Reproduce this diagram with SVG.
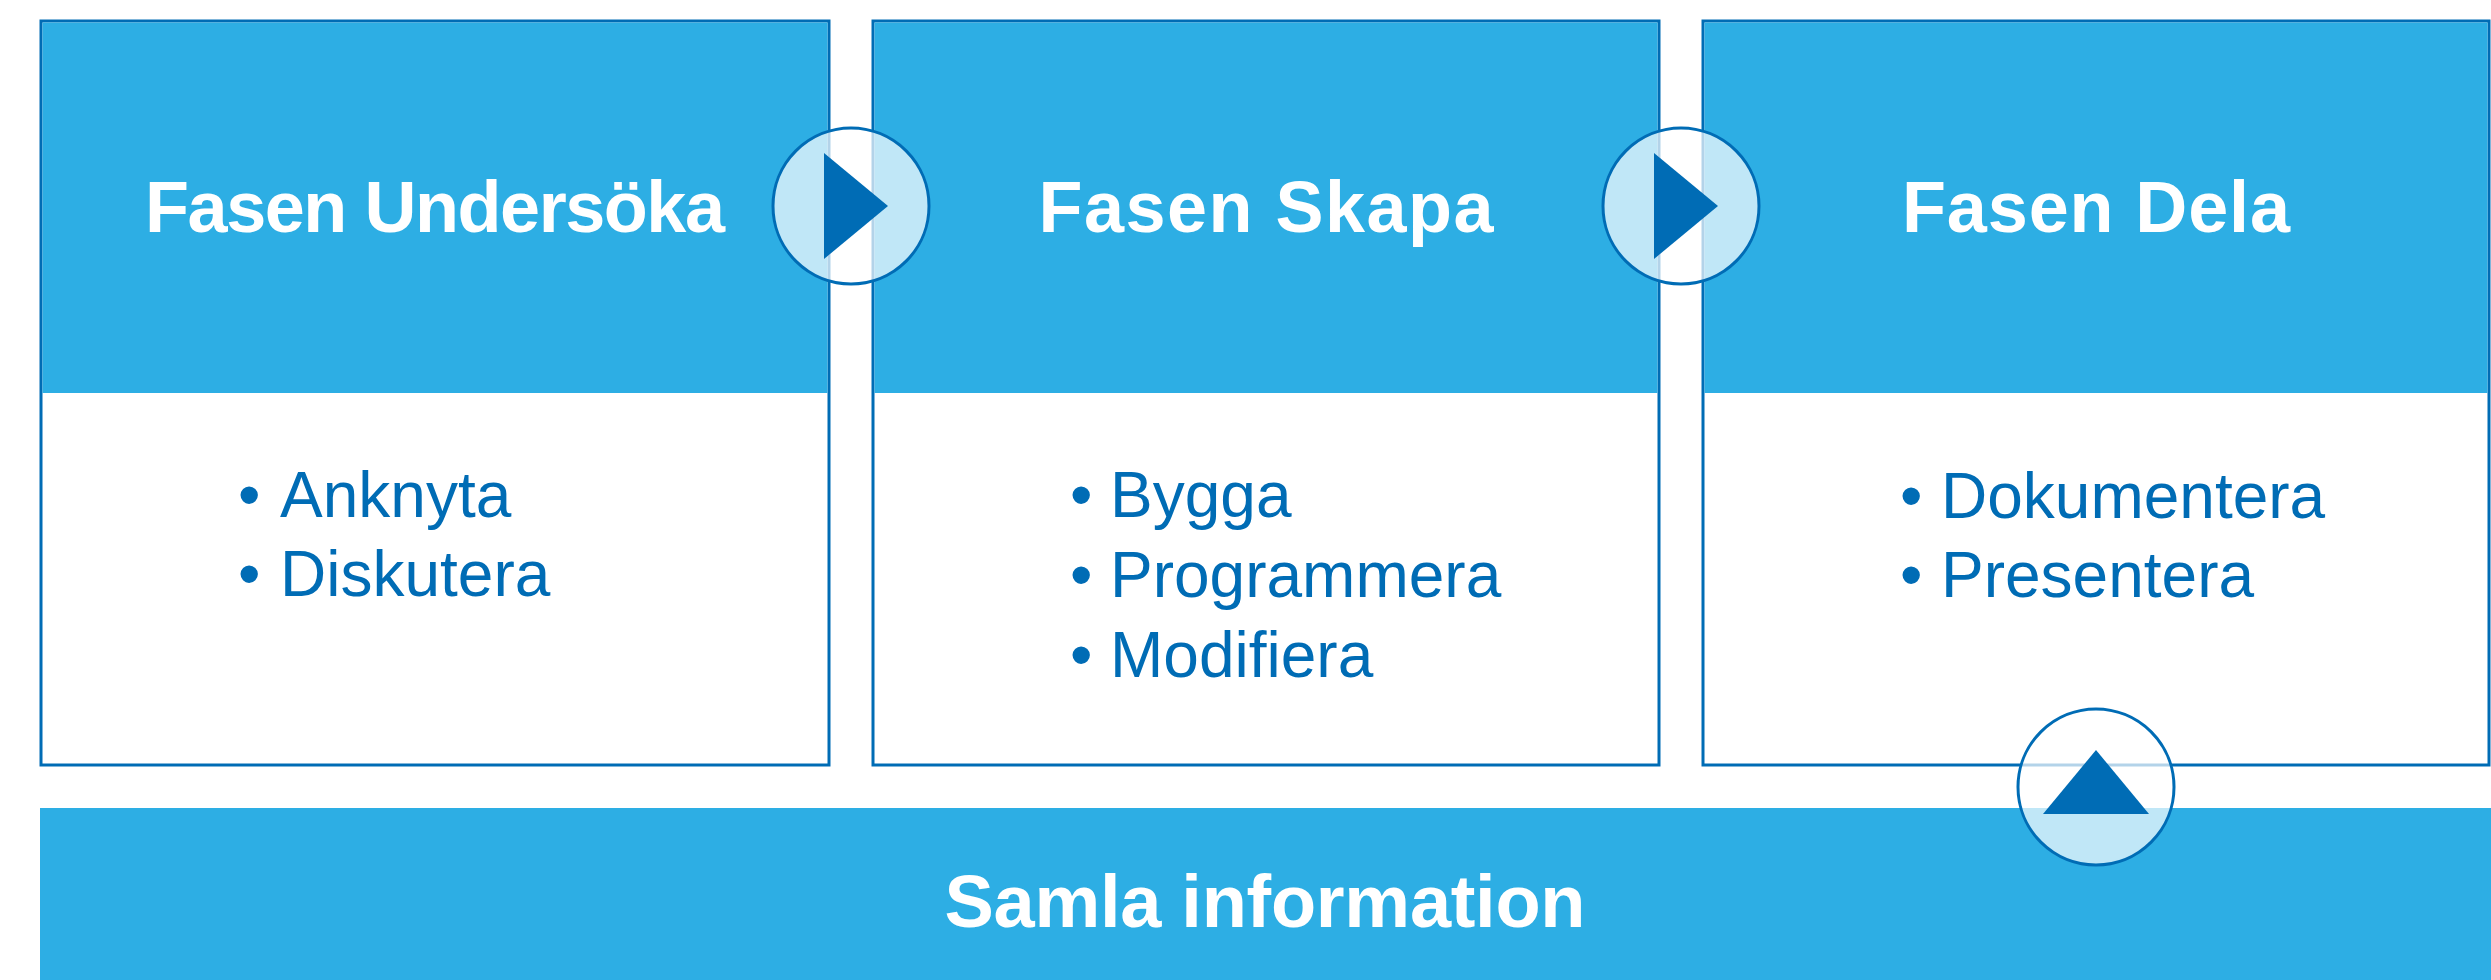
<svg xmlns="http://www.w3.org/2000/svg" width="2491" height="980" viewBox="0 0 2491 980">
<style>
.box{fill:#ffffff;stroke:#006cb5;stroke-width:3}
.head{fill:#2daee4}
.title{font-family:"Liberation Sans",Arial,sans-serif;font-weight:bold;font-size:72px;fill:#ffffff;text-anchor:middle}
.item{font-family:"Liberation Sans",Arial,sans-serif;font-size:64px;fill:#006cb5}
.band{fill:#2daee4}
.btitle{font-family:"Liberation Sans",Arial,sans-serif;font-weight:bold;font-size:74px;fill:#ffffff;text-anchor:middle}
.knob{fill:#ffffff;fill-opacity:0.7;stroke:#006cb5;stroke-width:3}
.tri{fill:#006cb5}
</style>
<rect width="2491" height="980" fill="#ffffff"/>
<g id="fas-undersoka">
<rect class="box" x="41" y="21" width="788" height="744"/>
<rect class="head" x="42.5" y="22.5" width="785" height="370.5"/>
<text class="title" x="435" y="232" textLength="580" lengthAdjust="spacing">Fasen Undersöka</text>
<text class="item"><tspan x="238" y="517">•</tspan><tspan x="280" y="517">Anknyta</tspan></text>
<text class="item"><tspan x="238" y="596">•</tspan><tspan x="280" y="596">Diskutera</tspan></text>
</g>
<g id="fas-skapa">
<rect class="box" x="873" y="21" width="786" height="744"/>
<rect class="head" x="874.5" y="22.5" width="783" height="370.5"/>
<text class="title" x="1266" y="232" textLength="455" lengthAdjust="spacing">Fasen Skapa</text>
<text class="item"><tspan x="1070" y="517">•</tspan><tspan x="1110" y="517">Bygga</tspan></text>
<text class="item"><tspan x="1070" y="597">•</tspan><tspan x="1110" y="597">Programmera</tspan></text>
<text class="item"><tspan x="1070" y="677">•</tspan><tspan x="1110" y="677">Modifiera</tspan></text>
</g>
<g id="fas-dela">
<rect class="box" x="1703" y="21" width="786" height="744"/>
<rect class="head" x="1704.5" y="22.5" width="783" height="370.5"/>
<text class="title" x="2096" y="232" textLength="388" lengthAdjust="spacing">Fasen Dela</text>
<text class="item"><tspan x="1900" y="518">•</tspan><tspan x="1941" y="518">Dokumentera</tspan></text>
<text class="item"><tspan x="1900" y="597">•</tspan><tspan x="1941" y="597">Presentera</tspan></text>
</g>
<g id="samla-information">
<rect class="band" x="40" y="808" width="2451" height="172"/>
<text class="btitle" x="1265" y="927" textLength="641" lengthAdjust="spacing">Samla information</text>
</g>
<g id="connectors">
<g id="arrow-1">
<circle class="knob" cx="851" cy="206" r="78"/>
<polygon class="tri" points="824,153 888,206 824,259"/>
</g>
<g id="arrow-2">
<circle class="knob" cx="1681" cy="206" r="78"/>
<polygon class="tri" points="1654,153 1718,206 1654,259"/>
</g>
<g id="arrow-3">
<circle class="knob" cx="2096" cy="787" r="78"/>
<polygon class="tri" points="2096,750 2149,814 2043,814"/>
</g>
</g>
</svg>
